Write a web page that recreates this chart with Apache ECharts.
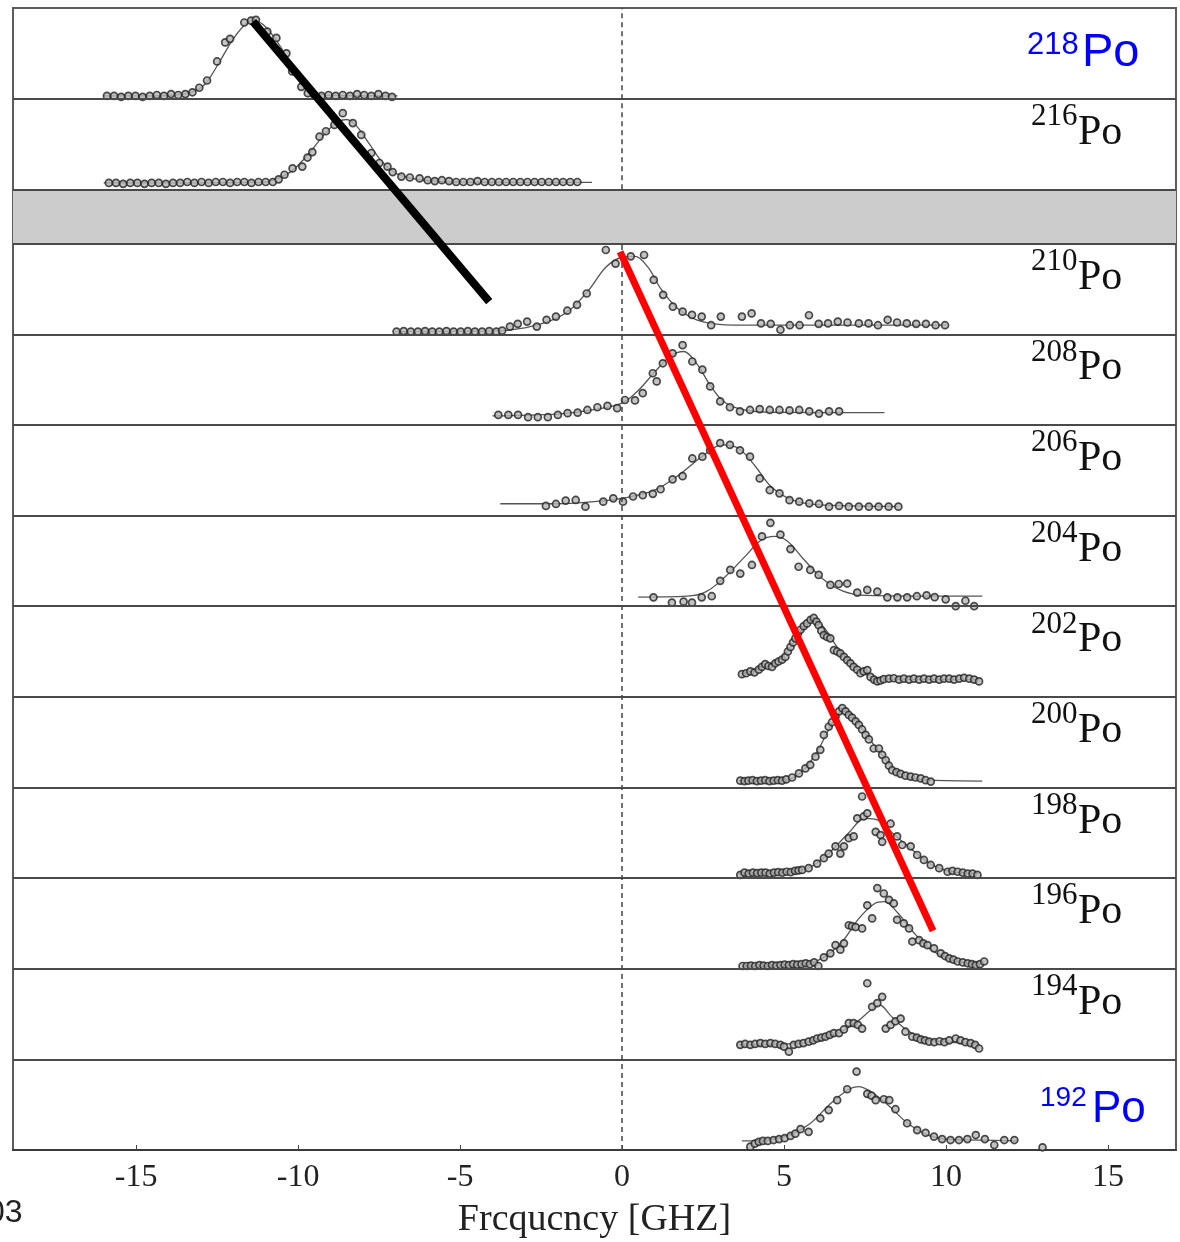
<!DOCTYPE html>
<html>
<head>
<meta charset="utf-8">
<title>Po isotope shift scans</title>
<script src="https://cdn.jsdelivr.net/npm/echarts@6/dist/echarts.min.js"></script>
<style>
  html, body { margin: 0; padding: 0; background: #ffffff; }
  #chart { width: 1180px; height: 1242px; }
</style>
</head>
<body>
<div id="chart"></div>
<script>
// ---- Mass numbers, top panel to bottom panel ----
const massNumbers = ['218', '216', '210', '208', '206', '204', '202', '200', '198', '196', '194', '192'];

// ---- Frequency scans: [frequency GHz, normalised counts within the panel] ----
const po218Scan = [[-15.9,.03],[-15.68,.03],[-15.46,.02],[-15.24,.03],[-15.02,.03],[-14.8,.02],[-14.58,.03],[-14.36,.04],[-14.14,.03],[-13.92,.05],[-13.7,.04],[-13.48,.05],[-13.26,.07],[-13.05,.12],[-12.81,.20],[-12.5,.41],[-12.25,.62],[-12.1,.66],[-11.66,.84],[-11.45,.86],[-11.3,.87],[-10.95,.74],[-10.67,.67],[-10.36,.50],[-10.18,.30],[-9.9,.13],[-9.7,.06],[-9.5,.04],[-9.28,.03],[-9.06,.04],[-8.84,.03],[-8.62,.04],[-8.4,.03],[-8.18,.05],[-7.96,.04],[-7.74,.03],[-7.52,.05],[-7.3,.03],[-7.1,.02]];
const po218Fit = [[-16.0,.03],[-14.5,.03],[-13.8,.04],[-13.3,.07],[-12.9,.15],[-12.5,.36],[-12.0,.66],[-11.6,.83],[-11.35,.86],[-11.0,.79],[-10.5,.55],[-10.0,.24],[-9.5,.07],[-9.0,.035],[-6.93,.03]];

const po216Scan = [[-15.84,.07],[-15.62,.07],[-15.4,.06],[-15.18,.07],[-14.96,.07],[-14.74,.06],[-14.52,.07],[-14.3,.07],[-14.08,.06],[-13.86,.07],[-13.64,.07],[-13.42,.08],[-13.2,.07],[-12.98,.08],[-12.76,.07],[-12.54,.08],[-12.32,.08],[-12.1,.07],[-11.88,.08],[-11.66,.08],[-11.44,.07],[-11.22,.08],[-11.0,.08],[-10.78,.08],[-10.6,.11],[-10.42,.16],[-10.17,.23],[-9.87,.25],[-9.71,.35],[-9.56,.41],[-9.34,.58],[-9.14,.64],[-8.88,.71],[-8.62,.84],[-8.31,.73],[-8.05,.60],[-7.74,.40],[-7.49,.29],[-7.24,.25],[-7.08,.19],[-6.81,.14],[-6.55,.13],[-6.25,.12],[-6.0,.10],[-5.78,.09],[-5.56,.10],[-5.34,.09],[-5.12,.08],[-4.9,.08],[-4.68,.08],[-4.46,.09],[-4.24,.08],[-4.02,.08],[-3.8,.08],[-3.58,.08],[-3.36,.08],[-3.14,.08],[-2.92,.08],[-2.7,.08],[-2.48,.08],[-2.26,.08],[-2.04,.08],[-1.82,.08],[-1.6,.08],[-1.38,.08]];
const po216Fit = [[-16.0,.07],[-11.2,.075],[-10.7,.11],[-10.2,.2],[-9.7,.38],[-9.2,.6],[-8.8,.74],[-8.5,.77],[-8.2,.7],[-7.8,.5],[-7.4,.3],[-7.0,.18],[-6.5,.12],[-6.0,.095],[-5.0,.08],[-0.93,.075]];

const po210Scan = [[-6.96,.03],[-6.74,.035],[-6.52,.03],[-6.3,.03],[-6.08,.035],[-5.86,.03],[-5.64,.03],[-5.42,.035],[-5.2,.03],[-4.98,.03],[-4.76,.035],[-4.54,.03],[-4.32,.03],[-4.1,.035],[-3.88,.03],[-3.7,.04],[-3.46,.085],[-3.22,.115],[-2.93,.14],[-2.63,.085],[-2.33,.16],[-2.04,.195],[-1.69,.26],[-1.39,.325],[-1.09,.45],[-0.5,.93],[-0.2,.78],[0.27,.86],[0.68,.875],[0.98,.60],[1.27,.435],[1.57,.305],[1.87,.25],[2.16,.215],[2.46,.195],[2.75,.10],[3.05,.195],[3.7,.195],[4.0,.23],[4.29,.12],[4.59,.115],[4.89,.05],[5.18,.10],[5.48,.10],[5.77,.21],[6.07,.115],[6.36,.12],[6.66,.14],[6.96,.13],[7.31,.12],[7.61,.12],[7.9,.10],[8.2,.16],[8.49,.13],[8.79,.12],[9.08,.115],[9.38,.115],[9.68,.10],[9.97,.10]];
const po210Fit = [[-7.0,.03],[-4.0,.035],[-3.0,.07],[-2.2,.15],[-1.6,.27],[-1.0,.5],[-0.5,.74],[0.0,.85],[0.4,.86],[0.8,.74],[1.2,.5],[1.7,.29],[2.3,.16],[3.0,.11],[4.0,.10],[10.0,.10]];

const po208Scan = [[-3.82,.11],[-3.51,.11],[-3.21,.11],[-2.9,.085],[-2.6,.085],[-2.29,.085],[-1.98,.11],[-1.68,.13],[-1.37,.135],[-1.07,.165],[-0.76,.195],[-0.45,.21],[-0.15,.185],[0.09,.275],[0.4,.27],[0.64,.35],[0.95,.57],[1.07,.48],[1.26,.68],[1.56,.79],[1.87,.88],[2.17,.70],[2.48,.61],[2.72,.425],[3.03,.26],[3.33,.195],[3.64,.15],[3.95,.165],[4.25,.175],[4.56,.165],[4.86,.165],[5.17,.16],[5.47,.165],[5.78,.15],[6.08,.125],[6.39,.15],[6.7,.15]];
const po208Fit = [[-4.0,.10],[-2.0,.12],[-1.0,.16],[0.0,.24],[0.5,.38],[1.0,.58],[1.5,.76],[1.9,.81],[2.3,.68],[2.7,.45],[3.1,.27],[3.6,.18],[4.5,.14],[8.1,.135]];

const po206Scan = [[-2.35,.106],[-2.04,.128],[-1.74,.165],[-1.43,.172],[-1.13,.098],[-0.58,.153],[-0.27,.19],[0.03,.153],[0.34,.21],[0.64,.225],[0.95,.24],[1.19,.29],[1.56,.40],[1.87,.435],[2.17,.63],[2.48,.65],[2.72,.72],[3.03,.80],[3.33,.78],[3.64,.72],[3.95,.65],[4.25,.41],[4.56,.28],[4.86,.245],[5.17,.17],[5.47,.153],[5.78,.135],[6.08,.128],[6.39,.098],[6.7,.106],[7.0,.098],[7.31,.098],[7.62,.098],[7.92,.098],[8.23,.098],[8.53,.098]];
const po206Fit = [[-3.76,.13],[-2.0,.13],[-1.0,.15],[0.0,.19],[1.0,.28],[1.8,.46],[2.5,.66],[3.1,.78],[3.6,.74],[4.1,.55],[4.6,.32],[5.2,.18],[6.0,.12],[8.5,.10]];

const po204Scan = [[0.97,.098],[1.54,.04],[1.9,.05],[2.16,.04],[2.46,.098],[2.77,.11],[3.03,.28],[3.34,.40],[3.65,.36],[4.01,.455],[4.32,.77],[4.58,.92],[4.89,.79],[5.2,.63],[5.45,.435],[5.81,.40],[6.07,.345],[6.43,.235],[6.69,.245],[6.95,.25],[7.26,.15],[7.57,.18],[7.88,.16],[8.19,.098],[8.5,.098],[8.8,.098],[9.1,.11],[9.4,.12],[9.65,.10],[9.99,.076],[10.3,.0],[10.6,.06],[10.87,.0]];
const po204Fit = [[0.5,.10],[2.0,.11],[2.6,.16],[3.2,.33],[3.8,.55],[4.3,.73],[4.7,.77],[5.1,.72],[5.6,.52],[6.2,.30],[6.8,.17],[7.5,.12],[11.12,.11]];

const po202Scan = [[3.7,.25],[3.83,.26],[3.96,.28],[4.09,.27],[4.22,.30],[4.32,.33],[4.42,.36],[4.52,.34],[4.63,.33],[4.73,.37],[4.83,.39],[4.94,.41],[5.04,.44],[5.12,.50],[5.2,.55],[5.28,.60],[5.35,.645],[5.43,.70],[5.51,.74],[5.61,.78],[5.71,.81],[5.82,.85],[5.92,.87],[6.0,.83],[6.07,.79],[6.15,.73],[6.23,.68],[6.33,.66],[6.43,.645],[6.54,.515],[6.64,.50],[6.74,.48],[6.85,.44],[6.95,.405],[7.05,.37],[7.15,.33],[7.26,.30],[7.36,.26],[7.46,.28],[7.57,.295],[7.67,.22],[7.78,.19],[7.88,.17],[7.98,.18],[8.08,.195],[8.24,.20],[8.39,.205],[8.55,.19],[8.7,.20],[8.86,.19],[9.01,.20],[9.17,.19],[9.32,.20],[9.48,.19],[9.63,.20],[9.79,.19],[9.94,.20],[10.1,.20],[10.25,.19],[10.41,.20],[10.56,.21],[10.72,.20],[10.87,.19],[11.02,.17]];
const po202Fit = [[3.7,.25],[4.5,.35],[5.0,.46],[5.5,.70],[5.9,.84],[6.2,.78],[6.7,.52],[7.2,.33],[7.8,.21],[8.5,.195],[11.0,.19]];

const po200Scan = [[3.65,.075],[3.78,.07],[3.9,.075],[4.03,.08],[4.16,.07],[4.29,.075],[4.42,.08],[4.55,.07],[4.68,.075],[4.81,.08],[4.94,.075],[5.07,.09],[5.25,.11],[5.46,.155],[5.66,.21],[5.81,.25],[5.97,.34],[6.12,.415],[6.23,.58],[6.38,.67],[6.48,.72],[6.59,.78],[6.7,.84],[6.8,.875],[6.9,.84],[7.0,.80],[7.1,.77],[7.21,.73],[7.31,.69],[7.41,.64],[7.52,.58],[7.62,.53],[7.77,.43],[7.93,.43],[8.03,.36],[8.14,.30],[8.24,.24],[8.34,.19],[8.47,.17],[8.6,.15],[8.75,.13],[8.91,.12],[9.06,.11],[9.22,.10],[9.37,.08],[9.53,.065]];
const po200Fit = [[3.6,.075],[5.0,.08],[5.5,.16],[6.0,.38],[6.4,.65],[6.8,.84],[7.1,.8],[7.5,.6],[8.0,.37],[8.5,.17],[9.0,.10],[9.5,.08],[11.12,.07]];

const po198Scan = [[3.65,.035],[3.78,.06],[3.91,.05],[4.04,.06],[4.17,.055],[4.3,.06],[4.43,.06],[4.56,.05],[4.69,.06],[4.82,.065],[4.95,.06],[5.08,.07],[5.21,.065],[5.34,.08],[5.45,.085],[5.56,.09],[5.76,.11],[6.02,.16],[6.23,.22],[6.38,.27],[6.59,.35],[6.74,.27],[6.85,.35],[7.0,.44],[7.15,.46],[7.26,.66],[7.41,.90],[7.46,.68],[7.57,.715],[7.83,.51],[7.98,.475],[8.03,.40],[8.29,.60],[8.49,.46],[8.65,.365],[8.91,.35],[9.11,.255],[9.32,.20],[9.53,.145],[9.79,.11],[10.05,.07],[10.2,.08],[10.36,.07],[10.52,.06],[10.67,.05],[10.82,.05],[10.97,.035]];
const po198Fit = [[3.6,.05],[5.0,.06],[5.8,.12],[6.4,.28],[7.0,.50],[7.5,.66],[7.9,.64],[8.4,.48],[9.0,.30],[9.6,.14],[10.2,.07],[11.0,.05]];

const po196Scan = [[3.72,.03],[3.85,.03],[3.98,.035],[4.11,.03],[4.24,.04],[4.37,.035],[4.5,.03],[4.63,.04],[4.76,.035],[4.89,.04],[5.02,.045],[5.15,.04],[5.28,.05],[5.41,.045],[5.54,.05],[5.67,.06],[5.8,.05],[5.93,.07],[6.06,.03],[6.23,.125],[6.43,.17],[6.59,.26],[6.74,.21],[6.85,.28],[7.0,.48],[7.1,.47],[7.21,.46],[7.41,.445],[7.57,.70],[7.72,.555],[7.88,.89],[8.08,.83],[8.24,.76],[8.39,.72],[8.49,.54],[8.7,.50],[8.86,.445],[8.96,.30],[9.17,.315],[9.3,.28],[9.43,.26],[9.63,.225],[9.84,.17],[9.97,.14],[10.1,.115],[10.23,.10],[10.36,.08],[10.52,.07],[10.67,.06],[10.8,.05],[10.92,.04],[11.05,.05],[11.18,.08]];
const po196Fit = [[3.7,.03],[5.5,.04],[6.2,.12],[6.8,.30],[7.3,.55],[7.8,.72],[8.1,.74],[8.5,.62],[9.0,.40],[9.5,.22],[10.0,.12],[10.5,.07],[11.2,.05]];

const po194Scan = [[3.65,.16],[3.8,.17],[3.96,.16],[4.11,.17],[4.27,.18],[4.42,.17],[4.58,.18],[4.73,.17],[4.89,.16],[5.0,.14],[5.15,.085],[5.3,.16],[5.45,.17],[5.6,.18],[5.76,.195],[5.9,.21],[6.02,.23],[6.15,.24],[6.28,.25],[6.41,.27],[6.54,.29],[6.7,.29],[6.85,.33],[7.0,.40],[7.15,.40],[7.28,.38],[7.41,.34],[7.57,.84],[7.72,.58],[7.88,.62],[8.03,.69],[8.14,.34],[8.29,.38],[8.44,.42],[8.6,.45],[8.75,.305],[8.96,.25],[9.1,.24],[9.22,.22],[9.35,.21],[9.48,.195],[9.64,.19],[9.8,.20],[9.95,.19],[10.1,.21],[10.3,.23],[10.45,.21],[10.6,.19],[10.76,.18],[10.9,.16],[11.02,.12]];
const po194Fit = [[3.6,.16],[5.5,.18],[6.5,.26],[7.2,.40],[7.7,.55],[7.95,.60],[8.3,.48],[8.8,.32],[9.4,.22],[11.0,.17]];

const po192Scan = [[3.96,.037],[4.1,.07],[4.22,.09],[4.35,.10],[4.5,.10],[4.68,.11],[4.85,.12],[5.02,.13],[5.2,.155],[5.35,.18],[5.51,.23],[5.76,.20],[6.12,.35],[6.38,.44],[6.64,.55],[6.95,.67],[7.24,.865],[7.57,.62],[7.7,.60],[7.83,.55],[8.08,.56],[8.25,.55],[8.44,.45],[8.8,.295],[9.11,.22],[9.37,.19],[9.63,.147],[9.88,.12],[10.14,.11],[10.4,.11],[10.66,.12],[10.92,.165],[11.2,.12],[11.49,.055],[11.8,.11],[12.11,.11],[12.98,.03]];
const po192Fit = [[3.7,.10],[4.5,.11],[5.2,.17],[5.8,.29],[6.4,.50],[7.0,.67],[7.3,.70],[7.7,.64],[8.2,.50],[8.8,.30],[9.4,.17],[10.0,.12],[11.0,.11],[12.2,.10]];

const scans = [po218Scan, po216Scan, po210Scan, po208Scan, po206Scan, po204Scan, po202Scan, po200Scan, po198Scan, po196Scan, po194Scan, po192Scan];
const fits = [po218Fit, po216Fit, po210Fit, po208Fit, po206Fit, po204Fit, po202Fit, po200Fit, po198Fit, po196Fit, po194Fit, po192Fit];

// ---- Trend guides drawn across the panels: [frequency GHz, stacked height] ----
const heavyTrend = [[-11.39, 12.45], [-4.10, 9.36]];
const lightTrend = [[-0.06, 9.91], [9.60, 2.42]];

// ---- Axis ticks ----
const freqTicks = [-15, -10, -5, 0, 5, 10, 15];

// ---- Stacking: each panel is one unit tall; a 0.6-unit grey gap separates 216 from 210 ----
const GAP_LOW = 10, GAP_HIGH = 10.6, STACK_TOP = 12.6;
function panelBase(i) {
  const fromBottom = massNumbers.length - 1 - i;
  return fromBottom >= GAP_LOW ? fromBottom + (GAP_HIGH - GAP_LOW) : fromBottom;
}

const series = [];
scans.forEach((scan, i) => {
  const b = panelBase(i);
  series.push({
    type: 'line',
    name: massNumbers[i] + 'Po fit',
    data: fits[i].map(p => [p[0], b + p[1]]),
    smooth: 0.35,
    symbol: 'none',
    lineStyle: { color: '#555555', width: 1.3 },
    z: 3,
    silent: true
  });
  series.push({
    type: 'scatter',
    name: massNumbers[i] + 'Po',
    data: scan.map(p => [p[0], b + p[1]]),
    symbol: 'circle',
    symbolSize: 7,
    itemStyle: { color: '#b4b4b4', borderColor: '#202020', borderWidth: 1.7 },
    z: 4,
    silent: true
  });
});

// Panel separators, grey gap and the zero-frequency guide
const separators = [];
for (let k = 1; k <= GAP_LOW; k++) separators.push({ yAxis: k });
separators.push({ yAxis: GAP_HIGH }, { yAxis: GAP_HIGH + 1 });
series.push({
  type: 'line',
  data: [],
  silent: true,
  z: 2,
  markArea: {
    silent: true,
    itemStyle: { color: '#cccccc' },
    data: [[{ yAxis: GAP_LOW }, { yAxis: GAP_HIGH }]]
  },
  markLine: {
    silent: true,
    symbol: 'none',
    label: { show: false },
    lineStyle: { color: '#4a4a4a', width: 2, type: 'solid' },
    data: separators
  }
});
series.push({
  type: 'line',
  data: [],
  silent: true,
  z: 2,
  markLine: {
    silent: true,
    symbol: 'none',
    label: { show: false },
    lineStyle: { color: '#444', width: 1.5, type: [5, 4] },
    data: [
      [{ coord: [0, 0] }, { coord: [0, GAP_LOW] }],
      [{ coord: [0, GAP_HIGH] }, { coord: [0, STACK_TOP] }]
    ]
  }
});

series.push({
  type: 'line', data: heavyTrend, symbol: 'none', silent: true, z: 10,
  lineStyle: { color: '#000000', width: 8, cap: 'butt' }
});
series.push({
  type: 'line', data: lightTrend, symbol: 'none', silent: true, z: 10,
  lineStyle: { color: '#ff0000', width: 7, cap: 'butt' }
});

const chart = echarts.init(document.getElementById('chart'), null, { renderer: 'canvas' });
chart.setOption({
  animation: false,
  backgroundColor: '#ffffff',
  grid: {
    left: 13, right: 4, top: 8, bottom: 92,
    outerBoundsMode: 'none',
    containLabel: false,
    show: true, borderColor: '#5c5c5c', borderWidth: 2, backgroundColor: 'transparent'
  },
  xAxis: {
    type: 'value',
    min: -18.8, max: 17.1,
    axisLine: { show: true, lineStyle: { color: '#3a3a3a', width: 2 } },
    axisTick: { show: true, inside: true, length: 5, customValues: freqTicks, lineStyle: { color: '#444' } },
    axisLabel: {
      customValues: freqTicks, margin: 12,
      fontFamily: 'Liberation Serif', fontSize: 32, color: '#222'
    },
    splitLine: { show: false },
    name: 'Frcqucncy [GHZ]',
    nameLocation: 'middle',
    nameGap: 51,
    nameTextStyle: { fontFamily: 'Liberation Serif', fontSize: 38, color: '#222' }
  },
  yAxis: { type: 'value', min: 0, max: STACK_TOP, show: false },
  series: series
});

// Isotope labels at the right of each panel
const graphics = [];
massNumbers.forEach((m, i) => {
  const b = panelBase(i);
  const top = chart.convertToPixel({ gridIndex: 0 }, [0, b + 1])[1];
  const blue = (i === 0 || i === massNumbers.length - 1);
  if (blue) {
    const isTop = i === 0;
    const supSize = isTop ? 31 : 28, poSize = isTop ? 47 : 44;
    const supTop = top + (isTop ? 26 : 29), poBase = top + (isTop ? 62 : 66);
    graphics.push({
      type: 'text', x: isTop ? 1027 : 1040, y: supTop + 0.36 * supSize,
      style: { text: m, font: supSize + 'px "Liberation Sans", Arial, sans-serif', fill: '#0000ff', verticalAlign: 'middle', align: 'left' }
    });
    graphics.push({
      type: 'text', x: isTop ? 1082 : 1092, y: poBase - 0.36 * poSize,
      style: { text: 'Po', font: poSize + 'px "Liberation Sans", Arial, sans-serif', fill: '#0000ff', verticalAlign: 'middle', align: 'left' }
    });
  } else {
    const supSize = 31, poSize = 42;
    graphics.push({
      type: 'text', x: 1031, y: top + 8 + 0.33 * supSize,
      style: { text: m, font: supSize + 'px "Liberation Serif", "Times New Roman", serif', fill: '#111', verticalAlign: 'middle', align: 'left' }
    });
    graphics.push({
      type: 'text', x: 1078, y: top + 48 - 0.33 * poSize,
      style: { text: 'Po', font: poSize + 'px "Liberation Serif", "Times New Roman", serif', fill: '#111', verticalAlign: 'middle', align: 'left' }
    });
  }
});
graphics.push({
  type: 'text', x: -13, y: 1213,
  style: { text: '03', font: '32px "Liberation Sans", Arial, sans-serif', fill: '#222', verticalAlign: 'middle', align: 'left' }
});
chart.setOption({ graphic: graphics });
</script>
</body>
</html>
